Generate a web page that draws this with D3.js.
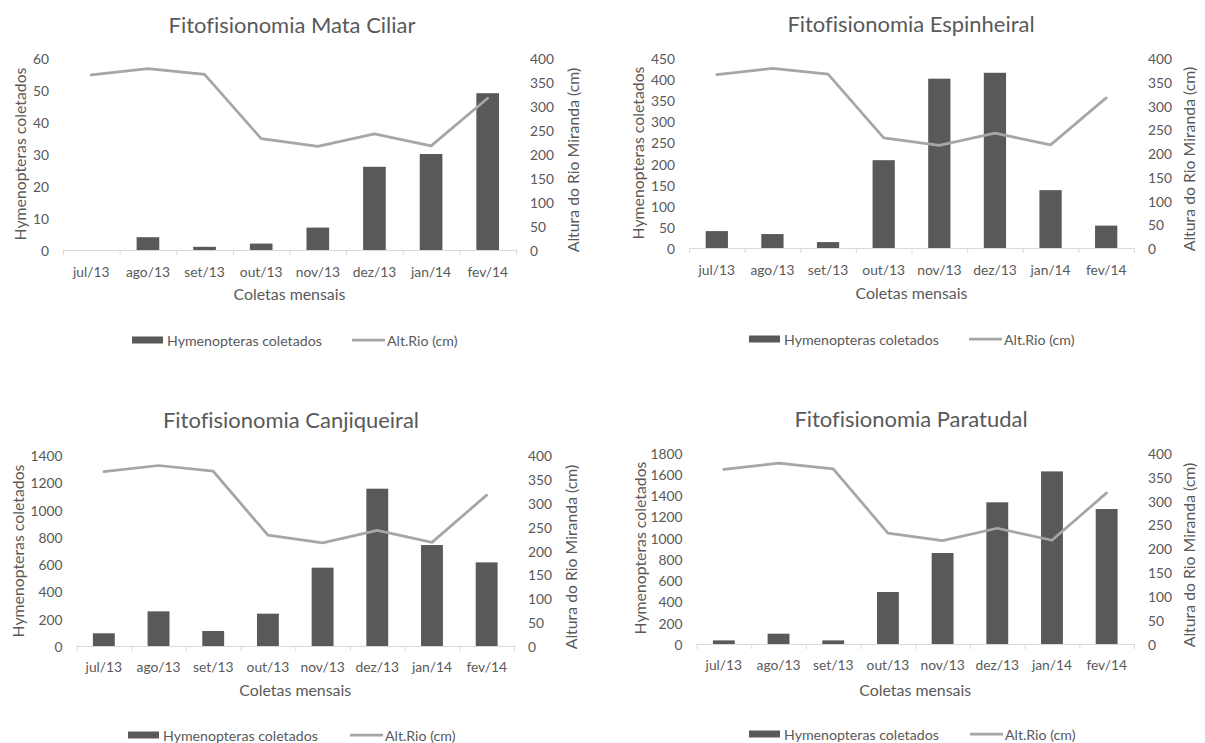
<!DOCTYPE html>
<html>
<head>
<meta charset="utf-8">
<script src="https://cdn.jsdelivr.net/npm/d3@7"></script>
<style>
  html, body { margin: 0; padding: 0; background: #ffffff; }
  svg { display: block; }
  svg text { font-variant-ligatures: none; font-feature-settings: "liga" 0, "clig" 0; }
</style>
</head>
<body>
<svg id="chart" width="1205" height="743"></svg>
<script>
// ---------------- DATA ----------------
const categories = ["jul/13", "ago/13", "set/13", "out/13", "nov/13", "dez/13", "jan/14", "fev/14"];
const riverHeight = [365, 378, 366, 232, 216, 242, 217, 316];           // Alt.Rio (cm)
const mataCiliar   = [0, 4, 1, 2, 7, 26, 30, 49];
const espinheiral  = [40, 33, 14, 208, 401, 415, 137, 53];
const canjiqueiral = [93, 254, 110, 237, 574, 1153, 740, 613];
const paratudal    = [34, 97, 34, 489, 856, 1333, 1624, 1270];

const ticksMata  = [0, 10, 20, 30, 40, 50, 60];
const ticksEsp   = [0, 50, 100, 150, 200, 250, 300, 350, 400, 450];
const ticksCanj  = [0, 200, 400, 600, 800, 1000, 1200, 1400];
const ticksPara  = [0, 200, 400, 600, 800, 1000, 1200, 1400, 1600, 1800];
const ticksRiver = [0, 50, 100, 150, 200, 250, 300, 350, 400];

const titles = ["Fitofisionomia Mata Ciliar", "Fitofisionomia Espinheiral",
                "Fitofisionomia Canjiqueiral", "Fitofisionomia Paratudal"];
const leftAxisTitle = "Hymenopteras coletados";
const rightAxisTitle = "Altura do Rio Miranda (cm)";
const xAxisTitle = "Coletas mensais";
const legendLabels = ["Hymenopteras coletados", "Alt.Rio (cm)"];

// ---------------- LAYOUT / STYLE ----------------
const FONT = "Lato, 'Open Sans', sans-serif";
const TEXT = "#595959";
const BAR = "#595959";
const LINE = "#a6a6a6";
const AXIS = "#d9d9d9";

const layout = [
  { series: mataCiliar,   ticks: ticksMata, x0: 63,   x1: 516,  yTop: 58,    yBot: 250, titleX: 292, titleY: 24,  lTitleX: 19,  rTitleX: 572,  lTitleY: 154, rTitleY: 160, catY: 271, xTitleY: 293, legY: 340, legRectX: 132, legLineX: 352 },
  { series: espinheiral,  ticks: ticksEsp,  x0: 689,  x1: 1134, yTop: 58,    yBot: 248, titleX: 911, titleY: 23,  lTitleX: 637, rTitleX: 1188, lTitleY: 153, rTitleY: 159, catY: 269, xTitleY: 292, legY: 339, legRectX: 749, legLineX: 969 },
  { series: canjiqueiral, ticks: ticksCanj, x0: 76.5, x1: 514,  yTop: 455,   yBot: 646, titleX: 291, titleY: 419, lTitleX: 17,  rTitleX: 570,  lTitleY: 551, rTitleY: 557, catY: 666, xTitleY: 689, legY: 735, legRectX: 128, legLineX: 350 },
  { series: paratudal,    ticks: ticksPara, x0: 696.5,x1: 1134, yTop: 452.7, yBot: 644, titleX: 911, titleY: 418, lTitleX: 639, rTitleX: 1188, lTitleY: 548, rTitleY: 555, catY: 664, xTitleY: 689, legY: 734, legRectX: 749, legLineX: 970 }
];

const svg = d3.select("#chart");

function fitSize(str, targetW) {
  const t = svg.append("text").attr("font-family", FONT).attr("font-size", 100).text(str);
  const w = t.node().getComputedTextLength();
  t.remove();
  return 100 * targetW / w;
}
const titleSize  = fitSize(titles[0], 247);
const tickSize   = fitSize("ago/13", 44);
const axTitleSize = fitSize(leftAxisTitle, 173);
const xTitleSize = fitSize(xAxisTitle, 112);
const legendSize = fitSize(legendLabels[0], 155);

layout.forEach((p, i) => {
  const g = svg.append("g");
  const x = d3.scaleBand().domain(categories).range([p.x0, p.x1]).padding(0);
  const yL = d3.scaleLinear().domain([p.ticks[0], p.ticks[p.ticks.length - 1]]).range([p.yBot, p.yTop]);
  const yR = d3.scaleLinear().domain([ticksRiver[0], ticksRiver[ticksRiver.length - 1]]).range([p.yBot, p.yTop]);

  // title
  g.append("text").attr("x", p.titleX).attr("y", p.titleY)
    .attr("text-anchor", "middle").attr("dominant-baseline", "central")
    .attr("font-family", FONT).attr("font-size", titleSize).attr("fill", TEXT)
    .text(titles[i]);

  // bars
  const bw = x.bandwidth() * 0.4;
  g.append("g").selectAll("rect").data(p.series).join("rect")
    .attr("x", (d, j) => x(categories[j]) + (x.bandwidth() - bw) / 2)
    .attr("width", bw)
    .attr("y", d => yL(d))
    .attr("height", d => yL(0) - yL(d))
    .attr("fill", BAR);

  // x axis line with tick marks at band boundaries
  const xAxis = g.append("g").attr("transform", `translate(0,${p.yBot})`)
    .call(d3.axisBottom(x).tickSize(0).tickPadding(p.catY - p.yBot - tickSize * 0.4));
  xAxis.select(".domain").attr("stroke", AXIS).attr("d", `M${p.x0},0.5H${p.x1}`);
  xAxis.selectAll(".tick text").attr("font-family", FONT).attr("font-size", tickSize).attr("fill", TEXT)
    .attr("dy", null).attr("y", p.catY - p.yBot).attr("dominant-baseline", "central");
  const bounds = categories.map(c => x(c)).concat([p.x1]);
  xAxis.append("g").selectAll("line").data(bounds).join("line")
    .attr("x1", d => d + 0.5).attr("x2", d => d + 0.5)
    .attr("y1", 0).attr("y2", 5).attr("stroke", AXIS);

  // left axis
  const la = g.append("g").attr("transform", `translate(${p.x0},0)`)
    .call(d3.axisLeft(yL).tickValues(p.ticks).tickSize(0).tickPadding(14).tickFormat(d3.format("d")));
  la.select(".domain").remove();
  la.selectAll(".tick text").attr("font-family", FONT).attr("font-size", tickSize).attr("fill", TEXT)
    .attr("dy", null).attr("dominant-baseline", "central");

  // right axis
  const ra = g.append("g").attr("transform", `translate(${p.x1},0)`)
    .call(d3.axisRight(yR).tickValues(ticksRiver).tickSize(0).tickPadding(14).tickFormat(d3.format("d")));
  ra.select(".domain").remove();
  ra.selectAll(".tick text").attr("font-family", FONT).attr("font-size", tickSize).attr("fill", TEXT)
    .attr("dy", null).attr("dominant-baseline", "central");

  // river line
  const line = d3.line().x((d, j) => x(categories[j]) + x.bandwidth() / 2).y(d => yR(d));
  g.append("path").datum(riverHeight).attr("d", line)
    .attr("fill", "none").attr("stroke", LINE).attr("stroke-width", 2.75)
    .attr("stroke-linejoin", "round").attr("stroke-linecap", "round");

  // axis titles
  g.append("text").attr("transform", `translate(${p.lTitleX},${p.lTitleY}) rotate(-90)`)
    .attr("text-anchor", "middle").attr("dominant-baseline", "central")
    .attr("font-family", FONT).attr("font-size", axTitleSize).attr("fill", TEXT)
    .text(leftAxisTitle);
  g.append("text").attr("transform", `translate(${p.rTitleX},${p.rTitleY}) rotate(-90)`)
    .attr("text-anchor", "middle").attr("dominant-baseline", "central")
    .attr("font-family", FONT).attr("font-size", axTitleSize).attr("fill", TEXT)
    .text(rightAxisTitle);
  g.append("text").attr("x", (p.x0 + p.x1) / 2).attr("y", p.xTitleY)
    .attr("text-anchor", "middle").attr("dominant-baseline", "central")
    .attr("font-family", FONT).attr("font-size", xTitleSize).attr("fill", TEXT)
    .text(xAxisTitle);

  // legend
  const lg = g.append("g");
  lg.append("rect").attr("x", p.legRectX).attr("y", p.legY - 3.5).attr("width", 31).attr("height", 7).attr("fill", BAR);
  lg.append("text").attr("x", p.legRectX + 35).attr("y", p.legY)
    .attr("dominant-baseline", "central")
    .attr("font-family", FONT).attr("font-size", legendSize).attr("fill", TEXT)
    .text(legendLabels[0]);
  lg.append("line").attr("x1", p.legLineX).attr("x2", p.legLineX + 33)
    .attr("y1", p.legY).attr("y2", p.legY)
    .attr("stroke", LINE).attr("stroke-width", 2.75);
  lg.append("text").attr("x", p.legLineX + 35).attr("y", p.legY)
    .attr("dominant-baseline", "central")
    .attr("font-family", FONT).attr("font-size", legendSize).attr("fill", TEXT)
    .text(legendLabels[1]);
});
</script>
</body>
</html>
